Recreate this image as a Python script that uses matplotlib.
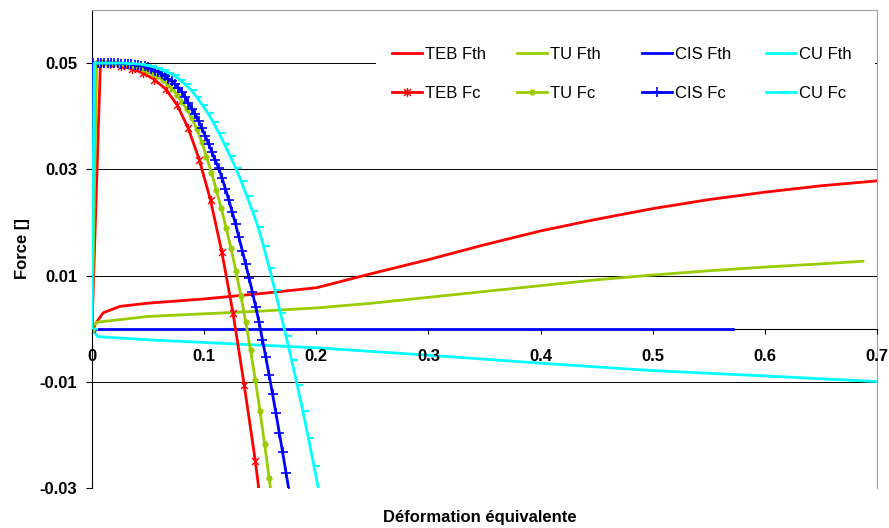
import matplotlib
matplotlib.use("Agg")
import matplotlib.pyplot as plt
from matplotlib.path import Path
from matplotlib.patches import Rectangle
from matplotlib.legend import Legend

plt.rcParams['font.family'] = ['Liberation Sans', 'DejaVu Sans']

# --- Fth series (no markers)
x_teb_fth = [0, 0.01, 0.025, 0.05, 0.1, 0.15, 0.2, 0.25, 0.3, 0.35, 0.4, 0.45, 0.5, 0.55, 0.6, 0.65, 0.704]
f_teb_fth = [0, 0.0030, 0.0042, 0.0048, 0.0056, 0.0066, 0.0077, 0.0104, 0.0130, 0.0158, 0.0184, 0.0206,
             0.0226, 0.0243, 0.0257, 0.0269, 0.0279]

x_tu_fth = [0, 0.004, 0.05, 0.1, 0.15, 0.2, 0.25, 0.3, 0.35, 0.4, 0.45, 0.5, 0.55, 0.6, 0.65, 0.6875]
f_tu_fth = [0, 0.0012, 0.0023, 0.0028, 0.0033, 0.0039, 0.0048, 0.0059, 0.0070, 0.0081, 0.0092, 0.0101,
            0.0109, 0.0116, 0.0122, 0.0127]

x_cis_fth = [0, 0.572]
f_cis_fth = [0, 0]

x_cu_fth = [0, 0.005, 0.05, 0.1, 0.2, 0.3, 0.4, 0.5, 0.6, 0.704]
f_cu_fth = [0, -0.0015, -0.0021, -0.0026, -0.0036, -0.0050, -0.0065, -0.0079, -0.0089, -0.0100]

# --- Fc series (with markers)
x_teb_fc = [0, 0.0075, 0.0157, 0.0257, 0.0357, 0.0457, 0.0557, 0.0657, 0.0757, 0.0857, 0.0957, 0.1057,
            0.1157, 0.1257, 0.1357, 0.1457, 0.1557]
f_teb_fc = [0, 0.0500, 0.0499, 0.0495, 0.0489, 0.0481, 0.0469, 0.0451, 0.0422, 0.0378, 0.0318, 0.0242,
            0.0145, 0.0030, -0.0106, -0.0250, -0.0420]

x_tu_fc = [0, 0.0042, 0.0072, 0.0115, 0.0158, 0.0201, 0.0244, 0.0287, 0.0330, 0.0373, 0.0416, 0.0459,
           0.0502, 0.0545, 0.0588, 0.0631, 0.0674, 0.0717, 0.0760, 0.0803, 0.0846, 0.0890, 0.0934, 0.0978,
           0.1021, 0.1065, 0.1108, 0.1152, 0.1196, 0.1240, 0.1284, 0.1328, 0.1372, 0.1414, 0.1456, 0.1498,
           0.1539, 0.1580, 0.1621]
f_tu_fc = [0, 0.0500, 0.0500, 0.0500, 0.0500, 0.0500, 0.0499, 0.0498, 0.0497, 0.0495, 0.0492, 0.0489,
           0.0485, 0.0480, 0.0475, 0.0468, 0.0460, 0.0451, 0.0440, 0.0427, 0.0413, 0.0396, 0.0376, 0.0352,
           0.0324, 0.0294, 0.0262, 0.0227, 0.0190, 0.0151, 0.0108, 0.0061, 0.0012, -0.0041, -0.0096, -0.0155,
           -0.0217, -0.0282, -0.0350]

x_cis_fc = [0, 0.001, 0.005, 0.008, 0.011, 0.014, 0.017, 0.020, 0.023, 0.026, 0.029, 0.032, 0.035, 0.038,
            0.041, 0.044, 0.047, 0.050, 0.053, 0.056, 0.059, 0.062, 0.065, 0.068, 0.071, 0.074, 0.077, 0.080,
            0.083, 0.086, 0.089, 0.092, 0.095, 0.098, 0.101, 0.104, 0.107, 0.110, 0.113, 0.116, 0.119, 0.122,
            0.125, 0.128, 0.131, 0.134, 0.137, 0.140, 0.143, 0.146, 0.149, 0.152, 0.155, 0.158, 0.161, 0.164,
            0.167, 0.170, 0.173, 0.176, 0.179]
f_cis_fc = [0, 0.0500, 0.0500, 0.0500, 0.0500, 0.0500, 0.0500, 0.0500, 0.0500, 0.0499, 0.0499, 0.0499,
            0.0498, 0.0497, 0.0496, 0.0495, 0.0494, 0.0492, 0.0489, 0.0486, 0.0483, 0.0480, 0.0475, 0.0470,
            0.0466, 0.0460, 0.0454, 0.0446, 0.0436, 0.0425, 0.0414, 0.0404, 0.0391, 0.0377, 0.0363, 0.0348,
            0.0332, 0.0317, 0.0302, 0.0283, 0.0263, 0.0242, 0.0220, 0.0197, 0.0172, 0.0147, 0.0122, 0.0096,
            0.0069, 0.0041, 0.0012, -0.0021, -0.0054, -0.0088, -0.0123, -0.0159, -0.0196, -0.0233, -0.0271,
            -0.0309, -0.0347]

x_cu_fc = [0, 0.002, 0.008, 0.013, 0.018, 0.023, 0.028, 0.033, 0.038, 0.043, 0.048, 0.053, 0.058, 0.063,
           0.068, 0.073, 0.078, 0.083, 0.088, 0.093, 0.098, 0.103, 0.108, 0.113, 0.118, 0.123, 0.128, 0.133,
           0.138, 0.143, 0.148, 0.153, 0.158, 0.163, 0.168, 0.173, 0.178, 0.183, 0.188, 0.193, 0.198, 0.203,
           0.208]
f_cu_fc = [0, 0.0500, 0.0500, 0.0500, 0.0500, 0.0500, 0.0500, 0.0499, 0.0499, 0.0498, 0.0496, 0.0494,
           0.0491, 0.0487, 0.0482, 0.0477, 0.0469, 0.0460, 0.0450, 0.0437, 0.0422, 0.0407, 0.0389, 0.0369,
           0.0348, 0.0326, 0.0303, 0.0278, 0.0250, 0.0222, 0.0192, 0.0155, 0.0115, 0.0073, 0.0030, -0.0014,
           -0.0059, -0.0106, -0.0155, -0.0206, -0.0259, -0.0314, -0.0372]

x_ticks = [0, 0.1, 0.2, 0.3, 0.4, 0.5, 0.6, 0.7]
x_ticklabels = ['0', '0.1', '0.2', '0.3', '0.4', '0.5', '0.6', '0.7']
y_ticks = [-0.03, -0.01, 0.01, 0.03, 0.05]
y_ticklabels = ['-0.03', '-0.01', '0.01', '0.03', '0.05']

RED, GREEN, BLUE, CYAN = '#FF0000', '#99CC00', '#0000FF', '#00FFFF'

# Excel-like markers
star = Path([(-1, -1), (1, 1), (-1, 1), (1, -1), (0, -1.3), (0, 1.3)],
            [Path.MOVETO, Path.LINETO, Path.MOVETO, Path.LINETO, Path.MOVETO, Path.LINETO])
dash = Path([(0, 0), (1, 0)], [Path.MOVETO, Path.LINETO])

fig = plt.figure(figsize=(8.89, 5.28), dpi=100)
ax = fig.add_axes([92 / 889, 40 / 528, 785 / 889, 478 / 528])

# move x axis to y=0 first (this resets tick properties)
ax.spines['bottom'].set_position(('data', 0))

lw = 2.0
h1, = ax.plot(x_teb_fth, f_teb_fth, color=RED, lw=lw, zorder=3)
h2, = ax.plot(x_tu_fth, f_tu_fth, color=GREEN, lw=lw, zorder=3)
h3, = ax.plot(x_cis_fth, f_cis_fth, color=BLUE, lw=lw, zorder=3)
h4, = ax.plot(x_cu_fth, f_cu_fth, color=CYAN, lw=lw, zorder=3)

h5, = ax.plot(x_teb_fc, f_teb_fc, color=RED, lw=lw, marker=star, ms=6.5, mew=1.0, zorder=4)
h6, = ax.plot(x_tu_fc, f_tu_fc, color=GREEN, lw=lw, marker='o', ms=4.5, mew=0, zorder=4)
h7, = ax.plot(x_cis_fc, f_cis_fc, color=BLUE, lw=lw, marker='+', ms=6.5, mew=1.2, zorder=4)
h8, = ax.plot(x_cu_fc, f_cu_fc, color=CYAN, lw=lw, marker=dash, ms=9, mew=1.5, zorder=4)

ax.set_xlim(0, 0.7)
ax.set_ylim(-0.03, 0.06)

ax.set_xticks(x_ticks)
ax.set_xticklabels(x_ticklabels, fontsize=12, fontweight='bold')
ax.set_yticks(y_ticks)
ax.set_yticklabels(y_ticklabels, fontsize=12, fontweight='bold')

ax.grid(axis='y', color='black', lw=0.7)
ax.set_axisbelow(True)

ax.spines['bottom'].set_color('black')
ax.spines['left'].set_color('black')
ax.spines['top'].set_color('#a0a0a0')
ax.spines['right'].set_color('#a0a0a0')
ax.tick_params(axis='x', direction='out', length=3.5, width=0.8, pad=11)
ax.tick_params(axis='y', direction='out', length=4.5, width=0.8, pad=6)
# tick labels on top of the curves
ax.xaxis.set_zorder(5)

ax.set_xlabel('Déformation équivalente', fontsize=12, fontweight='bold')
ax.set_ylabel('Force []', fontsize=12, fontweight='bold')
ax.xaxis.set_label_coords((480 - 92) / 785, -0.046)
ax.yaxis.set_label_coords(-(92 - 30) / 785, 0.5)

# white legend area hiding the gridline
ax.add_patch(Rectangle((376 / 889, 1 - 114 / 528), (875 - 376) / 889, (114 - 26) / 528,
                       transform=fig.transFigure, facecolor='white', edgecolor='none',
                       zorder=2, clip_on=False))

cols = [([h1, h5], ['TEB Fth', 'TEB Fc'], 392),
        ([h2, h6], ['TU Fth', 'TU Fc'], 517),
        ([h3, h7], ['CIS Fth', 'CIS Fc'], 642),
        ([h4, h8], ['CU Fth', 'CU Fc'], 766)]
for handles, labels, xpix in cols:
    leg = Legend(ax, handles, labels, loc='upper left',
                 bbox_to_anchor=(xpix / 889, 1 - 47 / 528), bbox_transform=fig.transFigure,
                 fontsize=12, frameon=False, handlelength=1.8, handletextpad=0.2,
                 labelspacing=1.42, borderpad=0, borderaxespad=0, numpoints=1)
    leg.set_zorder(5)
    ax.add_artist(leg)

fig.savefig('out.png', dpi=100)
